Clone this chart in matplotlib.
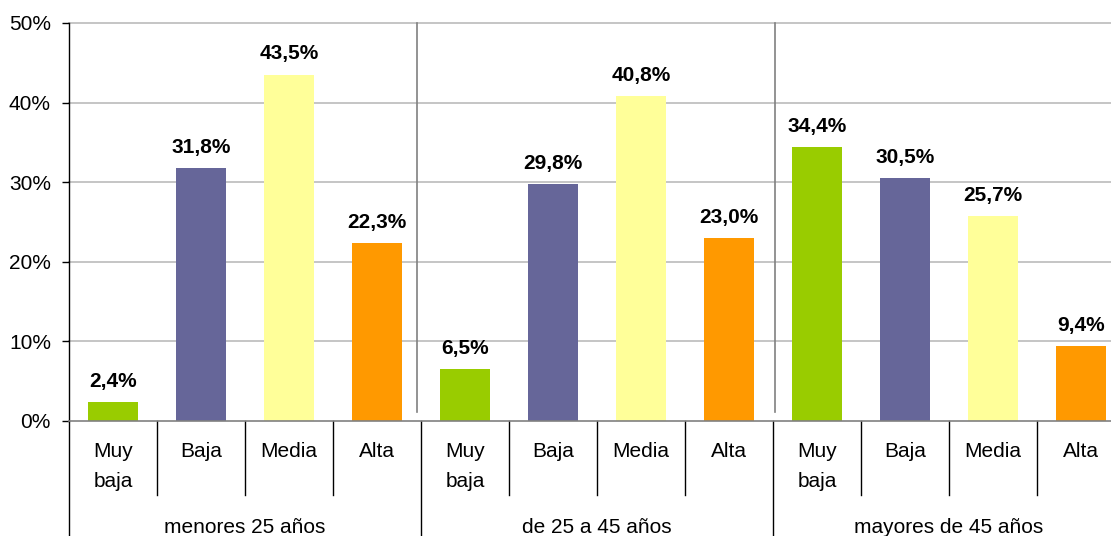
import matplotlib
matplotlib.use("Agg")
import matplotlib.pyplot as plt
import matplotlib.transforms as mtransforms

plt.rcParams['font.family'] = ['Liberation Sans', 'DejaVu Sans']

groups = ["menores 25 años", "de 25 a 45 años", "mayores de 45 años"]
levels = ["Muy\nbaja", "Baja", "Media", "Alta"]
muy_baja = [2.4, 6.5, 34.4]
baja = [31.8, 29.8, 30.5]
media = [43.5, 40.8, 25.7]
alta = [22.3, 23.0, 9.4]
yticks = [0, 10, 20, 30, 40, 50]
colors = ["#99CC00", "#666699", "#FFFF99", "#FF9900"]

series = [muy_baja, baja, media, alta]

fig = plt.figure(figsize=(11.11, 5.36), dpi=100)
ax = fig.add_axes([69/1111, 115/536, 1056/1111, 398/536])

ax.set_xlim(-0.5, 11.5)
ax.set_ylim(0, 50)

for y in yticks[1:]:
    ax.axhline(y, color="#C0C0C0", lw=1.3, zorder=0, clip_on=False)

fs = 15
for g in range(len(groups)):
    for k in range(len(levels)):
        x = g * 4 + k
        v = series[k][g]
        ax.bar(x, v, width=0.57, color=colors[k], zorder=2)
        ax.annotate(f"{v:.1f}%".replace(".", ","), (x, v), xytext=(0, 11),
                    textcoords="offset points", ha="center", va="baseline",
                    fontsize=fs, fontweight="bold", color="black")

# gray separator lines within plot
for xs in [3.455, 7.52]:
    ax.plot([xs, xs], [1.13, 50], color="#808080", lw=1.2, zorder=1, clip_on=False)

ax.set_yticks(yticks)
ax.set_yticklabels([f"{t}%" for t in yticks], fontsize=fs)
ax.tick_params(axis="y", length=5, width=1, pad=8, color="black")
ax.set_xticks([])

for s in ["top", "right"]:
    ax.spines[s].set_visible(False)
ax.spines["bottom"].set_color("#808080")
ax.spines["bottom"].set_linewidth(1.2)
ax.spines["left"].set_color("black")
ax.spines["left"].set_linewidth(1.0)

trans = mtransforms.blended_transform_factory(ax.transData, ax.transAxes)
# category ticks below axis
for g in range(3):
    for k in range(3):
        xb = g * 4 + k + 0.5
        ax.plot([xb, xb], [0, -0.186], color="black", lw=1.0, transform=trans, clip_on=False)
# group separators
for xb in [-0.5, 3.5, 7.5]:
    ax.plot([xb, xb], [0, -0.3], color="black", lw=1.0, transform=trans, clip_on=False)

for g in range(3):
    for k in range(4):
        x = g * 4 + k
        ax.text(x, -0.052, levels[k], transform=trans, ha="center", va="top",
                fontsize=fs, linespacing=1.75)
    ax.text(g * 4 + 1.5, -0.268, groups[g], transform=trans, ha="center",
            va="center", fontsize=fs)

fig.savefig("out.png", dpi=100)
